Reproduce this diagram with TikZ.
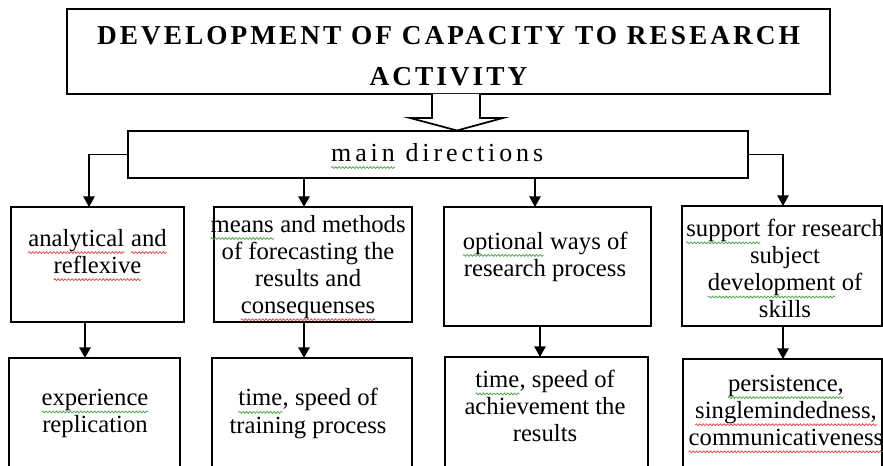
\documentclass[tikz,border=0pt]{standalone}
\usepackage{fontspec}
\setmainfont{Liberation Serif}
\usetikzlibrary{arrows.meta,fit,decorations.pathmorphing}

\definecolor{squigred}{RGB}{215,70,70}
\definecolor{squiggreen}{RGB}{70,165,70}

% word with a wavy spell-check style underline
\newcommand\spellmark[2]{\tikz[baseline=(spellword.base)]{%
  \node[inner sep=0pt, outer sep=0pt] (spellword) {#2};
  \draw[#1, line width=0.55pt, decorate,
        decoration={snake, amplitude=0.7pt, segment length=2.6pt}]
    ([yshift=-4.8pt]spellword.base west) -- ([yshift=-4.8pt]spellword.base east);}}
\newcommand\spellred[1]{\spellmark{squigred}{#1}}
\newcommand\spellgreen[1]{\spellmark{squiggreen}{#1}}

\tikzset{
  box/.style={draw, line width=1.3pt, inner sep=0pt},
  txt/.style={align=center, inner sep=0pt, font=\fontsize{18.5}{20.3}\selectfont},
  ttl/.style={align=center, inner sep=0pt,
    font=\fontsize{20.5}{30.75}\selectfont\bfseries\addfontfeatures{LetterSpace=11}},
  mdir/.style={inner sep=0pt,
    font=\fontsize{19.5}{22}\selectfont\addfontfeatures{LetterSpace=15}},
  arr/.style={line width=1.3pt, -{Triangle[length=8pt,width=8.5pt]}},
}

\begin{document}
\begin{tikzpicture}[x=0.75pt, y=-0.75pt]
  \useasboundingbox (0,0) rectangle (883,466);
  \clip (0,0) rectangle (883,466);

  % heading
  \node[box, fit={(67,9) (830,94)}] (title) {};
  \node[ttl] (titletxt) at (448.5,56.5) {DEVELOPMENT OF CAPACITY TO RESEARCH\\ACTIVITY};

  % hollow block arrow
  \draw[line width=1.3pt, fill=white]
    (432,94) -- (432,118) -- (410,118) -- (457,130.5) -- (503,118) -- (480,118) -- (480,94);

  % main directions
  \node[box, fit={(128,131) (748,178)}] (main) {};
  \node[mdir] (maintxt) at (437,156) {\spellgreen{main} directions};

  % first row
  \node[box, fit={(11,207) (184,322)}] (b1) {};
  \node[box, fit={(214,207) (412,322)}] (b2) {};
  \node[box, fit={(444,207) (651,326)}] (b3) {};
  \node[box, fit={(682,206) (882,326)}] (b4) {};

  \node[txt] (t1) at (97.5,255) {\spellred{analytical} \spellred{and}\\\spellred{reflexive}};
  \node[txt] (t2) at (308,268) {\spellgreen{means} and methods\\of forecasting the\\results and\\\spellred{consequenses}};
  \node[txt] (t3) at (545,256.5) {\spellgreen{optional} ways of\\research process};
  \node[txt] (t4) at (785,268.5) {\spellgreen{support} for research\\subject\\\spellgreen{development} of\\skills};

  % second row
  \node[box, fit={(9,358) (180,520)}] (r1) {};
  \node[box, fit={(212,358) (412,520)}] (r2) {};
  \node[box, fit={(445,357) (648,520)}] (r3) {};
  \node[box, fit={(683,359) (882,520)}] (r4) {};

  \node[txt] (s1) at (95,413.5) {\spellgreen{experience}\\replication};
  \node[txt] (s2) at (308,413.5) {\spellgreen{time}, speed of\\training process};
  \node[txt] (s3) at (545,406) {\spellgreen{time}, speed of\\achievement the\\results};
  \node[txt] (s4) at (786,414) {\spellgreen{persistence,}\\\spellred{singlemindedness,}\\\spellred{communicativeness}};

  % arrow ends
  \coordinate (a1) at (89,207);
  \coordinate (a2) at (304,207);
  \coordinate (a3) at (535,207);
  \coordinate (a4) at (783,206);
  \coordinate (c1) at (85,358);
  \coordinate (c2) at (304,358);
  \coordinate (c3) at (540,357);
  \coordinate (c4) at (783,359);

  % connectors
  \draw[arr] (main.west) -| (a1);
  \draw[arr] (main.east) -| (a4);
  \draw[arr] (main.south -| a2) -- (a2);
  \draw[arr] (main.south -| a3) -- (a3);
  \draw[arr] (b1.south -| c1) -- (c1);
  \draw[arr] (b2.south -| c2) -- (c2);
  \draw[arr] (b3.south -| c3) -- (c3);
  \draw[arr] (b4.south -| c4) -- (c4);
\end{tikzpicture}
\end{document}
